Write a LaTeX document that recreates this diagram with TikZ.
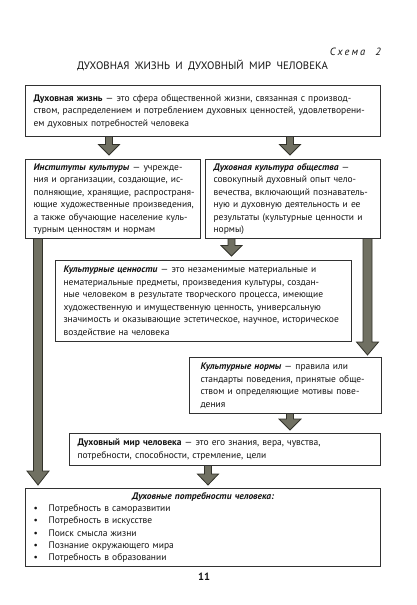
\documentclass[tikz,border=0pt]{standalone}
\usepackage{fontspec}
\setmainfont{PT Sans}
\usetikzlibrary{calc}
\setlength\parindent{0pt}
\definecolor{boxline}{RGB}{50,50,50}
\definecolor{arrfill}{RGB}{112,112,98}
\definecolor{arrdark}{RGB}{50,50,42}
\definecolor{ink}{RGB}{20,20,20}
\newcommand\jl[1]{\makebox[\hsize][s]{#1}}
\newcommand\bfit{\bfseries\itshape}
\newcommand\blockarr[5]{%
  \filldraw[arrstyle] let \p1=#1, \p2=#2 in
  (\x1-#3,\y1) -- (\x1-#3,\y2+#5) -- (\x1-#4,\y2+#5) -- (\x1,\y2)
  -- (\x1+#4,\y2+#5) -- (\x1+#3,\y2+#5) -- (\x1+#3,\y1);}
\tikzset{
  boxnode/.style={draw=boxline, line width=1.1pt, fill=white, text=ink,
    inner xsep=8pt, inner ysep=3pt, align=left, anchor=north west,
    font=\fontsize{9.5}{12.5}\selectfont},
  arrstyle/.style={fill=arrfill, draw=arrdark, line width=0.8pt, line join=miter},
}
\begin{document}
\begin{tikzpicture}[x=1pt,y=-1pt]
\useasboundingbox (0,0) rectangle (416,605);
\fill[white] (0,0) rectangle (416,605);

\node[anchor=base east, font=\itshape\fontsize{10.5}{12}\selectfont, text=ink, inner sep=0pt] (schema) at (381,55)
  {\makebox[51pt][s]{С\hfil х\hfil е\hfil м\hfil а\hskip 8pt plus 1fil 2}};
\node[anchor=base, font=\fontsize{10.8}{12}\selectfont, text=ink, inner sep=0pt] (title) at (202.5,69)
  {\makebox[251pt][s]{ДУХОВНАЯ ЖИЗНЬ И ДУХОВНЫЙ МИР ЧЕЛОВЕКА}};

\node[boxnode, minimum width=355pt, minimum height=51pt, text width=339pt] (b1) at (25,85)
  {\jl{\textbf{Духовная жизнь} — это сфера общественной жизни, связанная с производ-}\\
   \jl{ством, распределением и потреблением духовных ценностей, удовлетворени-}\\
   ем духовных потребностей человека};

\node[boxnode, minimum width=175pt, minimum height=79pt, text width=159pt] (b2) at (25,159)
  {\jl{{\bfit Институты культуры} — учрежде-}\\
   \jl{ния и организации, создающие, ис-}\\
   \jl{полняющие, хранящие, распространя-}\\
   \jl{ющие художественные произведения,}\\
   \jl{а также обучающие население куль-}\\
   турным ценностям и нормам};

\node[boxnode, minimum width=175pt, minimum height=79pt, text width=159pt] (b3) at (205,159)
  {\jl{{\bfit Духовная культура общества} —}\\
   \jl{совокупный духовный опыт чело-}\\
   \jl{вечества, включающий познаватель-}\\
   \jl{ную и духовную деятельность и ее}\\
   \jl{результаты (культурные ценности и}\\
   нормы)};

\node[boxnode, minimum width=296pt, minimum height=81pt, text width=280pt] (b4) at (55,260)
  {\jl{{\bfit Культурные ценности} — это незаменимые материальные и}\\
   \jl{нематериальные предметы, произведения культуры, создан-}\\
   \jl{ные человеком в результате творческого процесса, имеющие}\\
   \jl{художественную и имущественную ценность, универсальную}\\
   \jl{значимость и оказывающие эстетическое, научное, историческое}\\
   воздействие на человека};

\node[boxnode, minimum width=192pt, minimum height=56pt, text width=170pt, inner xsep=11pt] (b5) at (189,357)
  {\jl{{\bfit Культурные нормы} — правила или}\\
   \jl{стандарты поведения, принятые обще-}\\
   \jl{ством и определяющие мотивы пове-}\\
   дения};

\node[boxnode, minimum width=311pt, minimum height=32pt, text width=295pt] (b6) at (69,433)
  {\jl{\textbf{Духовный мир человека} — это его знания, вера, чувства,}\\
   потребности, способности, стремление, цели};

\node[boxnode, minimum width=355pt, minimum height=78pt, text width=339pt,
      font=\fontsize{9.5}{12.2}\selectfont] (b7) at (25,488)
  {\makebox[\hsize][c]{\bfit Духовные потребности человека:}\\
   \makebox[15pt][l]{•}Потребность в саморазвитии\\
   \makebox[15pt][l]{•}Потребность в искусстве\\
   \makebox[15pt][l]{•}Поиск смысла жизни\\
   \makebox[15pt][l]{•}Познание окружающего мира\\
   \makebox[15pt][l]{•}Потребность в образовании};

\node[anchor=base, font=\bfseries\fontsize{10.5}{12}\selectfont, text=ink, inner sep=0pt] (page) at (204,580) {11};

\coordinate (xa) at (109,0);
\coordinate (xb) at (290,0);
\coordinate (xc) at (38,0);
\coordinate (xd) at (231.5,0);
\coordinate (xe) at (367.5,0);
\coordinate (xf) at (290,0);
\coordinate (xg) at (208,0);

\blockarr{(xa |- b1.south)}{($(xa |- b2.north)+(0,-4)$)}{3.5pt}{10.5pt}{10.5pt}
\blockarr{(xb |- b1.south)}{($(xb |- b3.north)+(0,-4)$)}{3.5pt}{10.5pt}{10.5pt}
\blockarr{(xc |- b2.south)}{($(xc |- b7.north)+(0,-3)$)}{4.5pt}{11pt}{14pt}
\blockarr{(xd |- b3.south)}{($(xd |- b4.north)+(0,-4)$)}{3.5pt}{10.5pt}{10.5pt}
\blockarr{(xe |- b3.south)}{($(xe |- b5.north)+(0,-2)$)}{4.5pt}{11pt}{13pt}
\blockarr{(xf |- b5.south)}{($(xf |- b6.north)+(0,-3)$)}{3.5pt}{11pt}{11pt}
\blockarr{(xg |- b6.south)}{($(xg |- b7.north)+(0,-3)$)}{3.5pt}{10.5pt}{11pt}
\end{tikzpicture}
\end{document}
